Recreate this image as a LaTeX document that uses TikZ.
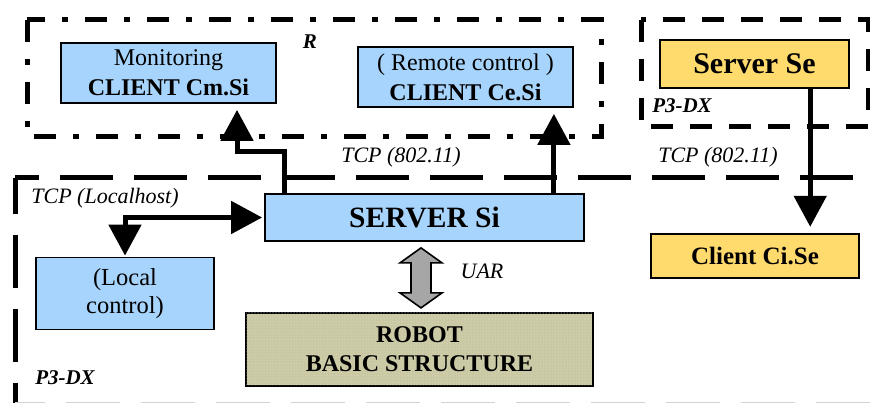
\documentclass[tikz,border=0pt]{standalone}
\usepackage{fontspec}
\setmainfont{Liberation Serif}
\usetikzlibrary{arrows.meta,patterns}
\definecolor{clientblue}{HTML}{A7D4FC}
\definecolor{seyellow}{HTML}{FFDB6E}
\definecolor{robotkhaki}{HTML}{C9C8A2}
\definecolor{uargray}{HTML}{A6A6A6}
\begin{document}
\begin{tikzpicture}[x=1pt,y=-1pt,
  box/.style={draw=black, line width=1.8pt, align=center, inner sep=0pt},
  bluebox/.style={box, fill=clientblue, font=\fontsize{24}{30}\selectfont},
  yellowbox/.style={box, fill=seyellow, line width=2.4pt},
  robotbox/.style={box, fill=robotkhaki,
    postaction={pattern=dots, pattern color=white!55!robotkhaki}},
  lbl/.style={inner sep=0pt, font=\itshape\fontsize{22}{24}\selectfont},
  framelbl/.style={inner sep=0pt, font=\bfseries\itshape\fontsize{21}{24}\selectfont},
  frameR/.style={line width=5pt, dash pattern=on 22pt off 17pt on 6pt off 17pt},
  frameP/.style={line width=5pt, dash pattern=on 22pt off 17pt},
  frameBig/.style={line width=5pt, dash pattern=on 53pt off 21pt},
  tip/.tip={Triangle[width=32pt,length=31pt]},
  link/.style={line width=5pt, -tip, shorten >=6pt},
  duplex/.style={line width=5pt, tip-tip, shorten >=2pt, shorten <=1pt},
  uarrow/.style={draw=black, line width=1.6pt, fill=uargray, line join=miter}
]
\useasboundingbox (0,0) rectangle (870,403);

% network frames
\draw[frameR] (27,20) rectangle (601,137);
\draw[frameP] (641,20) rectangle (868,127);
\draw[frameBig] (853,178) -- (15,178);
\draw[frameBig, dash phase=17pt] (15,178) -- (15,410);
\draw[gray!35, line width=1.2pt, dash pattern=on 54pt off 21pt] (870,402.5) -- (15,402.5);

\node[framelbl] (rlab) at (310,42) {R};
\node[framelbl] (p3top) at (682,106) {P3-DX};
\node[framelbl] (p3big) at (65,378) {P3-DX};

% hosts and clients
\node[bluebox, minimum width=215pt, minimum height=60pt] (mon) at (168.5,73)
  {Monitoring\\\textbf{CLIENT Cm.Si}};
\node[bluebox, minimum width=215pt, minimum height=60pt] (rem) at (465.5,77)
  {( Remote control )\\\textbf{CLIENT Ce.Si}};
\node[yellowbox, minimum width=189pt, minimum height=48pt,
  font=\bfseries\fontsize{30}{32}\selectfont] (se) at (754.5,64) {Server Se};
\node[bluebox, minimum width=319pt, minimum height=47pt,
  font=\bfseries\fontsize{29.5}{32}\selectfont] (srv) at (424.5,217.5) {SERVER Si};
\node[bluebox, minimum width=178pt, minimum height=72pt,
  font=\fontsize{24.5}{28}\selectfont] (loc) at (125,293.5) {(Local\\control)};
\node[robotbox, minimum width=347pt, minimum height=73pt,
  font=\bfseries\fontsize{24}{29}\selectfont] (rob) at (419.5,349.5)
  {ROBOT\\BASIC STRUCTURE};
\node[yellowbox, minimum width=208pt, minimum height=44pt,
  font=\bfseries\fontsize{25}{28}\selectfont] (cli) at (755,256) {Client Ci.Se};

% link labels
\node[lbl] (tcplocal) at (105,198) {TCP (Localhost)};
\node[lbl] (tcpr) at (401,157) {TCP (802.11)};
\node[lbl] (tcpse) at (718,157) {TCP (802.11)};
\node[lbl] (uar) at (482,271) {UAR};

% connections
\coordinate (monbend) at (237,152);
\draw[link] ([xshift=20pt]srv.north west) |- (monbend) -- (monbend |- mon.south);
\coordinate (remfoot) at ([xshift=-20pt]rem.south east);
\draw[link] (remfoot |- srv.north) -- (remfoot);
\coordinate (sefoot) at ([xshift=-40pt]se.south east);
\draw[link] (sefoot) -- (sefoot |- cli.north);
\draw[duplex] (loc.north) |- (srv.west);

% serial link between server and robot base
\path (srv.south) ++(-3.5,6) coordinate (uartop);
\draw[uarrow] (uartop) -- ++(21,15) -- ++(-11,0) -- ++(0,30) -- ++(11,0)
  -- ++(-21,15) -- ++(-21,-15) -- ++(11,0) -- ++(0,-30) -- ++(-11,0) -- cycle;
\end{tikzpicture}
\end{document}
